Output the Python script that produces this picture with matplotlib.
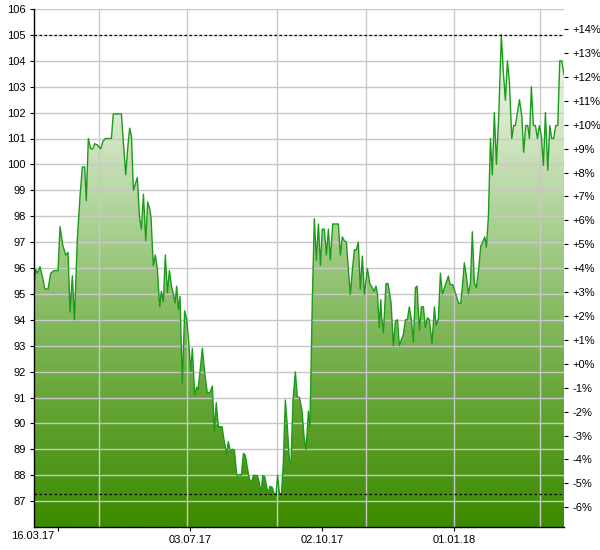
import numpy as np
import matplotlib
matplotlib.use('Agg')
import matplotlib.pyplot as plt
import matplotlib.dates as mdates
from matplotlib.colors import LinearSegmentedColormap
from matplotlib.patches import Polygon

plt.rcParams['font.family'] = ['Liberation Sans', 'DejaVu Sans']

# ---------------- data ----------------
start_date = '2017-03-16'
days = [1.5, 2.6, 3.75, 5.6, 7.9, 8.8, 11.1, 13.0, 15.2, 18.0,
        19.4, 21.2, 23.3, 24.9, 26.3, 27.9, 29.3, 31.3, 33.2, 34.8,
        36.4, 37.5, 38.9, 40.5, 41.9, 43.3, 45.1, 47.4, 49.0, 50.9,
        54.8, 56.1, 61.7, 63.0, 64.7, 66.0, 67.4, 68.6, 70.0, 71.6,
        72.7, 74.1, 75.5, 76.9, 78.5, 79.8, 81.2, 82.1, 83.7, 85.1,
        86.5, 88.1, 89.2, 90.6, 92.0, 93.4, 94.8, 96.2, 97.5, 98.7,
        99.8, 101.0, 102.1, 103.7, 105.3, 106.7, 108.3, 109.5, 110.6, 112.2,
        113.6, 114.5, 115.9, 117.5, 119.3, 120.9, 122.8, 124.4, 125.8, 127.1,
        128.5, 131.1, 132.4, 134.3, 135.4, 136.8, 138.4, 139.6, 141.2, 143.5,
        144.4, 145.8, 147.1, 148.5, 149.9, 151.3, 152.7, 155.4, 156.8, 157.9,
        159.1, 160.5, 161.9, 163.0, 164.1, 165.8, 166.9, 168.3, 169.4, 170.6,
        172.0, 173.3, 174.7, 176.1, 177.5, 178.6, 180.0, 181.6, 183.0, 184.4,
        186.2, 187.6, 189.0, 190.6, 191.7, 193.3, 194.7, 196.1, 197.5, 198.9,
        200.2, 201.6, 203.0, 204.4, 205.7, 207.4, 211.3, 212.6, 214.0, 215.4,
        216.8, 218.2, 219.5, 220.9, 222.3, 223.7, 225.0, 226.4, 227.8, 229.2,
        231.3, 232.9, 234.5, 235.9, 237.2, 238.2, 239.5, 240.5, 241.1, 242.3,
        244.1, 245.5, 247.6, 249.2, 250.6, 252.0, 253.3, 254.9, 256.1, 257.5,
        258.8, 260.2, 261.6, 263.0, 264.4, 265.5, 267.1, 268.5, 269.9, 271.2,
        272.6, 274.0, 275.8, 277.5, 278.6, 280.2, 281.6, 283.0, 284.8, 287.1,
        288.3, 290.1, 291.7, 294.2, 295.6, 297.0, 298.1, 299.5, 300.9, 302.3,
        303.6, 305.0, 306.4, 308.0, 309.4, 310.8, 312.2, 313.3, 314.7, 316.1,
        317.4, 318.8, 320.2, 321.8, 323.6, 325.0, 326.4, 327.8, 329.2, 330.8,
        332.1, 333.3, 334.7, 336.1, 337.7, 339.0, 340.4, 341.8, 343.0, 344.3,
        345.7, 347.1, 348.5, 349.8, 351.2, 352.6, 354.0, 355.6, 357.0, 358.3,
        359.7, 361.1, 362.5, 363.9, 365.2, 366.8]
values = [95.3, 95.95, 95.8, 96.05, 95.5, 95.2, 95.18, 95.8, 95.9, 95.9,
          97.6, 96.9, 96.5, 96.6, 94.3, 95.7, 94.0, 97.1, 98.8, 99.9,
          99.9, 98.6, 101.0, 100.6, 100.6, 100.8, 100.75, 100.6, 100.9, 101.0,
          101.0, 101.95, 101.95, 100.9, 99.6, 100.6, 101.4, 101.1, 99.0, 99.3,
          99.5, 98.0, 97.5, 98.85, 97.05, 98.55, 98.3, 97.95, 96.1, 96.5,
          95.95, 94.5, 95.1, 94.7, 96.5, 95.05, 95.9, 95.3, 95.0, 94.65,
          95.3, 94.4, 94.9, 91.55, 94.35, 94.0, 93.0, 92.0, 92.9, 91.1,
          91.4, 91.3, 92.0, 92.9, 91.86, 91.18, 91.2, 91.44, 89.7, 90.8,
          89.87, 89.87, 89.38, 88.8, 89.3, 88.94, 89.0, 88.97, 88.0, 88.03,
          88.0, 88.84, 88.77, 88.3, 87.87, 87.7, 87.99, 87.99, 87.7, 87.29,
          87.99, 87.94, 87.55, 87.29, 87.57, 87.52, 87.29, 87.29, 88.0, 87.29,
          87.29, 88.45, 90.9, 89.87, 88.58, 88.45, 90.9, 91.99, 91.02, 91.0,
          90.5, 89.48, 88.99, 90.48, 89.87, 94.76, 97.9, 96.3, 97.7, 96.1,
          97.5, 97.5, 96.5, 97.5, 96.3, 97.7, 97.7, 96.5, 97.2, 97.05,
          97.0, 95.9, 94.98, 95.9, 96.7, 96.7, 97.0, 95.17, 96.46, 94.98,
          95.98, 95.4, 95.25, 95.1, 95.3, 95.0, 93.7, 94.78, 94.1, 93.5,
          95.4, 95.4, 94.66, 93.0, 93.95, 94.0, 93.0, 93.27, 93.43, 94.0,
          94.0, 94.5, 94.0, 93.14, 95.24, 95.3, 93.6, 94.5, 94.5, 93.7,
          94.08, 94.0, 93.09, 94.5, 93.78, 94.04, 95.8, 95.0, 95.3, 95.69,
          95.36, 95.36, 95.07, 94.63, 94.63, 95.43, 96.2, 95.7, 95.0, 95.43,
          97.4, 95.43, 95.24, 95.97, 96.84, 97.0, 97.2, 96.8, 98.0, 101.0,
          99.6, 102.0, 100.0, 101.86, 105.0, 103.54, 102.48, 104.0, 103.15, 101.0,
          101.5, 101.5, 102.0, 102.5, 101.86, 100.47, 101.5, 101.5, 101.0, 103.0,
          101.5, 101.5, 101.0, 101.5, 101.1, 99.96, 102.0, 99.78, 101.5, 101.0,
          101.0, 101.5, 101.5, 104.0, 104.0, 103.47]

y_ticks = list(range(87, 107))
pct_ticks = list(range(-6, 15))
base_value = 92.3
x_tick_dates = ['2017-04-03', '2017-07-03', '2017-10-02', '2018-01-01']
x_tick_labels = ['', '03.07.17', '02.10.17', '01.01.18']
first_label = '16.03.17'
grid_dates = ['2017-05-01', '2017-07-01', '2017-09-01', '2017-11-01',
              '2018-01-01', '2018-03-01']
x_range_days = (1.45, 366.8)
y_range = (86, 106)

# ---------------- figure ----------------
fig = plt.figure(figsize=(6, 5.5), dpi=100)
ax = fig.add_axes([34/600, 1-527/550, 530/600, (527-9)/550])

t0 = mdates.datestr2num(start_date)
x = t0 + np.array(days)
y = np.array(values)
xmin, xmax = t0 + x_range_days[0], t0 + x_range_days[1]
ax.set_xlim(xmin, xmax)
ax.set_ylim(*y_range)

# gradient fill under the line
cmap = LinearSegmentedColormap.from_list(
    'g', [(0.0, '#3b8a00'), (0.25, '#66a637'), (0.5, '#98c67a'),
          (0.8, '#dbeacf'), (1.0, '#f8fbf5')])
grad = np.linspace(0, 1, 512).reshape(-1, 1)
im = ax.imshow(grad, extent=[xmin, xmax, y_range[0], y_range[1]],
               origin='lower', aspect='auto', cmap=cmap, zorder=1,
               interpolation='bilinear')
verts = np.column_stack([np.r_[x[0], x, x[-1]],
                         np.r_[y_range[0], y, y_range[0]]])
poly = Polygon(verts, closed=True, transform=ax.transData,
               facecolor='none', edgecolor='none')
ax.add_patch(poly)
im.set_clip_path(poly)

# grid
for yy in y_ticks:
    ax.axhline(yy, color='#c8c8c8', lw=1.0, zorder=2)
for gd in grid_dates:
    ax.axvline(mdates.datestr2num(gd), color='#c8c8c8', lw=1.0, zorder=2)

# line
ax.plot(x, y, color='#1a9c1a', lw=1.0, zorder=3)

# max / min dotted lines
ax.axhline(y.max(), color='black', lw=0.9, ls=(0, (2, 2)), zorder=4)
ax.axhline(y.min(), color='black', lw=0.9, ls=(0, (2, 2)), zorder=4)

# spines
for s in ['top', 'right']:
    ax.spines[s].set_visible(False)
for s in ['left', 'bottom']:
    ax.spines[s].set_color('black')
    ax.spines[s].set_linewidth(1.0)
    ax.spines[s].set_zorder(5)

ax.set_yticks(y_ticks)
ax.set_yticklabels([str(t) for t in y_ticks])
ax.set_xticks([mdates.datestr2num(d) for d in x_tick_dates])
ax.set_xticklabels(x_tick_labels)
ax.tick_params(axis='both', length=3, width=0.8, labelsize=8,
               colors='black', pad=3)

sec = ax.secondary_yaxis('right',
                         functions=(lambda v: (v / base_value - 1) * 100,
                                    lambda p: base_value * (1 + p / 100)))
sec.set_yticks(pct_ticks)
sec.set_yticklabels([f'{p:+d}%' for p in pct_ticks])
sec.spines['right'].set_visible(False)
sec.tick_params(length=3, width=0.8, labelsize=8, colors='black', pad=3)

fig.text(33/600, 1-536/550, first_label, ha='center', va='center',
         fontsize=8)

fig.savefig('out.png', dpi=100, facecolor='white')
